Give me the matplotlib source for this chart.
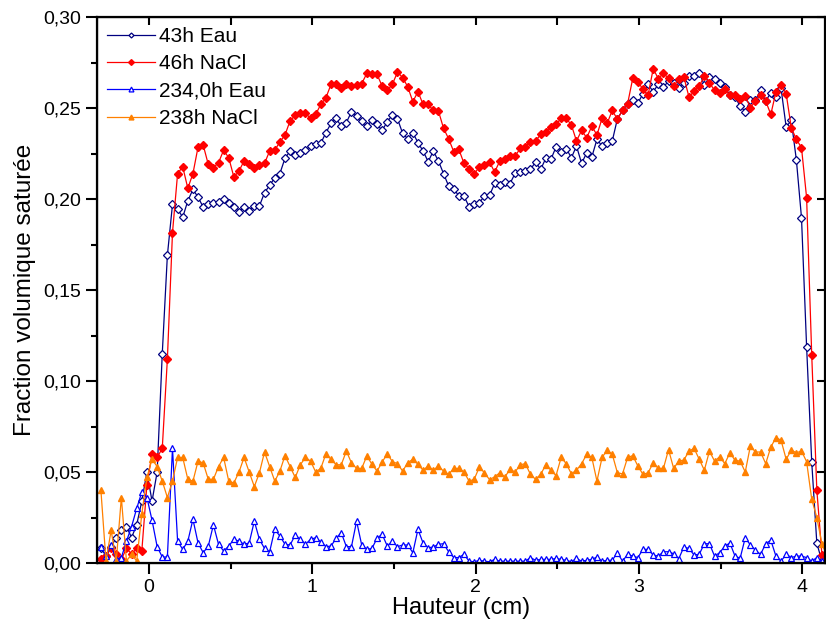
import numpy as np
import matplotlib
matplotlib.use("Agg")
from matplotlib import pyplot as plt
from matplotlib.ticker import MultipleLocator, FuncFormatter

plt.rcParams['font.family'] = ['Liberation Sans', 'DejaVu Sans']

# profils mesures, un point tous les ~0,031 cm
x_debut = -0.294
x_pas = 0.0313

eau_43h = [
    0.008, 0.004, 0.009, 0.014, 0.018, 0.020, 0.014, 0.021, 0.034, 0.050,
    0.034, 0.050, 0.115, 0.169, 0.197, 0.1945, 0.190, 0.199, 0.2053, 0.201,
    0.1956, 0.1974, 0.198, 0.1984, 0.1998, 0.198, 0.1958, 0.193, 0.1956, 0.1934,
    0.1962, 0.1962, 0.2035, 0.2075, 0.2117, 0.214, 0.2224, 0.2264, 0.224, 0.2251,
    0.2269, 0.2291, 0.230, 0.2306, 0.2365, 0.2415, 0.2443, 0.240, 0.242, 0.248,
    0.2456, 0.2429, 0.240, 0.2432, 0.241, 0.2377, 0.2425, 0.2462, 0.2441, 0.2361,
    0.2331, 0.2364, 0.231, 0.2264, 0.2205, 0.2264, 0.2209, 0.214, 0.2071, 0.2057,
    0.2016, 0.2016, 0.1958, 0.197, 0.198, 0.2016, 0.202, 0.2086, 0.2075, 0.2095,
    0.2085, 0.2141, 0.2148, 0.2154, 0.2163, 0.2203, 0.2163, 0.2224, 0.2218, 0.2286,
    0.226, 0.2277, 0.2227, 0.2291, 0.2196, 0.2254, 0.2231, 0.2328, 0.2291, 0.2309,
    0.2319, 0.2441, 0.2487, 0.2524, 0.2542, 0.2526, 0.2579, 0.263, 0.259, 0.263,
    0.2615, 0.2648, 0.2639, 0.2612, 0.2639, 0.2676, 0.2676, 0.2694, 0.2626, 0.267,
    0.2657, 0.2639, 0.2615, 0.2571, 0.256, 0.2511, 0.248, 0.2542, 0.2542, 0.2599,
    0.2538, 0.2584, 0.256, 0.2608, 0.2396, 0.2432, 0.2214, 0.1897, 0.1188, 0.0555,
    0.0108, 0.001, 0.001,
]

nacl_46h = [
    0.002, 0.004, 0.008, 0.005, 0.002, 0.008, 0.005, 0.008, 0.0066, 0.043,
    0.060, 0.058, 0.063, 0.112, 0.1815, 0.214, 0.2177, 0.2059, 0.214, 0.2286,
    0.2297, 0.219, 0.2172, 0.220, 0.2268, 0.2227, 0.2121, 0.2154, 0.2209, 0.219,
    0.2172, 0.2187, 0.2196, 0.2264, 0.2269, 0.2313, 0.2352, 0.243, 0.246, 0.247,
    0.247, 0.2445, 0.2465, 0.252, 0.2556, 0.263, 0.263, 0.261, 0.263, 0.262,
    0.2626, 0.2634, 0.269, 0.2685, 0.2685, 0.262, 0.2597, 0.263, 0.2698, 0.2667,
    0.2617, 0.2535, 0.259, 0.252, 0.252, 0.2487, 0.2484, 0.2389, 0.2331, 0.226,
    0.2273, 0.2196, 0.2167, 0.2136, 0.2178, 0.2187, 0.2203, 0.2148, 0.2209, 0.2218,
    0.2236, 0.2236, 0.2278, 0.2288, 0.2315, 0.2319, 0.2355, 0.237, 0.2396, 0.241,
    0.2443, 0.2443, 0.2407, 0.2319, 0.2377, 0.2337, 0.240, 0.2352, 0.2443, 0.2416,
    0.2487, 0.2438, 0.2487, 0.2524, 0.2663, 0.2645, 0.2603, 0.257, 0.2716, 0.2661,
    0.2692, 0.2663, 0.262, 0.2657, 0.267, 0.256, 0.2593, 0.262, 0.2676, 0.2639,
    0.2597, 0.2584, 0.2603, 0.2571, 0.2571, 0.2548, 0.2566, 0.2502, 0.2538, 0.2571,
    0.2538, 0.2465, 0.2588, 0.2626, 0.2579, 0.2392, 0.2328, 0.2282, 0.2007, 0.1143,
    0.040, 0.0044, 0.001,
]

eau_234h = [
    0.009, 0.004, 0.010, 0.002, 0.003, 0.012, 0.020, 0.030, 0.039, 0.036,
    0.0235, 0.009, 0.0033, 0.0033, 0.063, 0.012, 0.0075, 0.012, 0.024, 0.011,
    0.0057, 0.0093, 0.021, 0.0103, 0.0066, 0.0093, 0.013, 0.012, 0.0103, 0.011,
    0.023, 0.013, 0.008, 0.0062, 0.0185, 0.0148, 0.0103, 0.0099, 0.0154, 0.013,
    0.0103, 0.013, 0.0139, 0.0117, 0.009, 0.0093, 0.0136, 0.0167, 0.009, 0.009,
    0.023, 0.0099, 0.0075, 0.008, 0.0136, 0.0158, 0.0093, 0.012, 0.009, 0.0099,
    0.0099, 0.0057, 0.0185, 0.011, 0.0084, 0.0088, 0.0103, 0.0106, 0.0062, 0.003,
    0.003, 0.0048, 0.001, 0.0007, 0.0015, 0.001, 0.0007, 0.002, 0.001, 0.001,
    0.001, 0.001, 0.001, 0.001, 0.003, 0.0015, 0.002, 0.002, 0.002, 0.0025,
    0.002, 0.0015, 0.0007, 0.0025, 0.001, 0.0015, 0.002, 0.0033, 0.001, 0.0015,
    0.0015, 0.0057, 0.001, 0.0048, 0.0038, 0.003, 0.0075, 0.0075, 0.0044, 0.0038,
    0.0062, 0.0062, 0.0051, 0.0024, 0.0088, 0.008, 0.0044, 0.0048, 0.0106, 0.0106,
    0.0038, 0.0057, 0.0093, 0.011, 0.0038, 0.0026, 0.0139, 0.0099, 0.007, 0.0048,
    0.0106, 0.0125, 0.0038, 0.001, 0.0048, 0.003, 0.0038, 0.0038, 0.003, 0.001,
    0.003, 0.001, 0.001,
]

nacl_238h = [
    0.040, 0.001, 0.018, 0.001, 0.036, 0.001, 0.005, 0.001, 0.027, 0.047,
    0.057, 0.053, 0.045, 0.036, 0.045, 0.058, 0.058, 0.046, 0.045, 0.056,
    0.055, 0.046, 0.046, 0.053, 0.058, 0.045, 0.044, 0.050, 0.058, 0.050,
    0.042, 0.0496, 0.061, 0.053, 0.045, 0.0505, 0.059, 0.053, 0.047, 0.054,
    0.058, 0.056, 0.050, 0.052, 0.060, 0.057, 0.054, 0.054, 0.0615, 0.055,
    0.052, 0.052, 0.0588, 0.0543, 0.0505, 0.0555, 0.060, 0.0557, 0.0546, 0.0505,
    0.0551, 0.057, 0.0543, 0.051, 0.0533, 0.051, 0.0533, 0.0505, 0.0487, 0.052,
    0.052, 0.050, 0.045, 0.046, 0.0527, 0.0496, 0.0458, 0.0474, 0.0496, 0.0473,
    0.0515, 0.050, 0.054, 0.0546, 0.0487, 0.046, 0.0487, 0.054, 0.051, 0.048,
    0.058, 0.0546, 0.049, 0.051, 0.0546, 0.0597, 0.058, 0.045, 0.058, 0.062,
    0.0597, 0.0496, 0.049, 0.058, 0.059, 0.0533, 0.0487, 0.0496, 0.055, 0.052,
    0.052, 0.0623, 0.052, 0.056, 0.0566, 0.0615, 0.063, 0.057, 0.051, 0.0615,
    0.056, 0.0584, 0.0546, 0.0606, 0.0564, 0.056, 0.050, 0.0643, 0.061, 0.061,
    0.0546, 0.0637, 0.0689, 0.0675, 0.057, 0.062, 0.0606, 0.0615, 0.0557, 0.035,
    0.025, 0.0104, 0.004,
]

hauteur = np.round(x_debut + x_pas * np.arange(len(eau_43h)), 4)

fig = plt.figure(figsize=(8.26, 6.26), dpi=100)
ax = fig.add_axes([0.1174, 0.1006, 0.8814, 0.8722])

ax.plot(hauteur, eau_43h, color="#000080", lw=0.9, marker="D", ms=3.6,
        mfc="white", mec="#000080", mew=0.9, label="43h Eau")
ax.plot(hauteur, nacl_46h, color="#ff0000", lw=0.9, marker="D", ms=4.2,
        mfc="#ff0000", mec="#ff0000", label="46h NaCl")
ax.plot(hauteur, eau_234h, color="#0000ff", lw=0.9, marker="^", ms=5,
        mfc="white", mec="#0000ff", mew=0.9, label="234,0h Eau")
ax.plot(hauteur, nacl_238h, color="#ff8000", lw=0.9, marker="^", ms=5,
        mfc="#ff8000", mec="#ff8000", label="238h NaCl")

ax.set_xlim(-0.318, 4.138)
ax.set_ylim(0, 0.30)

virgule = FuncFormatter(lambda v, p: ("%.2f" % v).replace(".", ","))
ax.yaxis.set_major_formatter(virgule)
ax.xaxis.set_major_locator(MultipleLocator(1))
ax.xaxis.set_minor_locator(MultipleLocator(0.5))
ax.yaxis.set_major_locator(MultipleLocator(0.05))
ax.yaxis.set_minor_locator(MultipleLocator(0.025))

# ticks style Origin : dehors en bas/gauche, dedans en haut/droite
ax.tick_params(axis="both", which="major", direction="out", length=8, width=1.5,
               labelsize=14, top=False, right=False)
ax.tick_params(axis="both", which="minor", direction="out", length=4.5, width=1.5,
               top=False, right=False)
for s in ax.spines.values():
    s.set_linewidth(1.6)

axt = ax.twiny()
axt.set_xlim(ax.get_xlim())
axt.xaxis.set_major_locator(MultipleLocator(0.5))
axt.tick_params(axis="x", direction="in", length=6, width=1.5, labeltop=False)
axr = ax.twinx()
axr.set_ylim(ax.get_ylim())
axr.yaxis.set_major_locator(MultipleLocator(0.05))
axr.tick_params(axis="y", direction="in", length=6, width=1.5, labelright=False)

ax.set_xlabel("Hauteur (cm)", fontsize=17, labelpad=1)
ax.set_ylabel("Fraction volumique saturée", fontsize=17.5, labelpad=5)

ax.legend(loc="upper left", bbox_to_anchor=(0.0, 1.0), frameon=False, fontsize=15,
          handlelength=2.3, handletextpad=0.22, labelspacing=0.4, borderpad=0.45,
          borderaxespad=0.02, markerscale=0.7, numpoints=1)

fig.savefig("out.png", dpi=100)
